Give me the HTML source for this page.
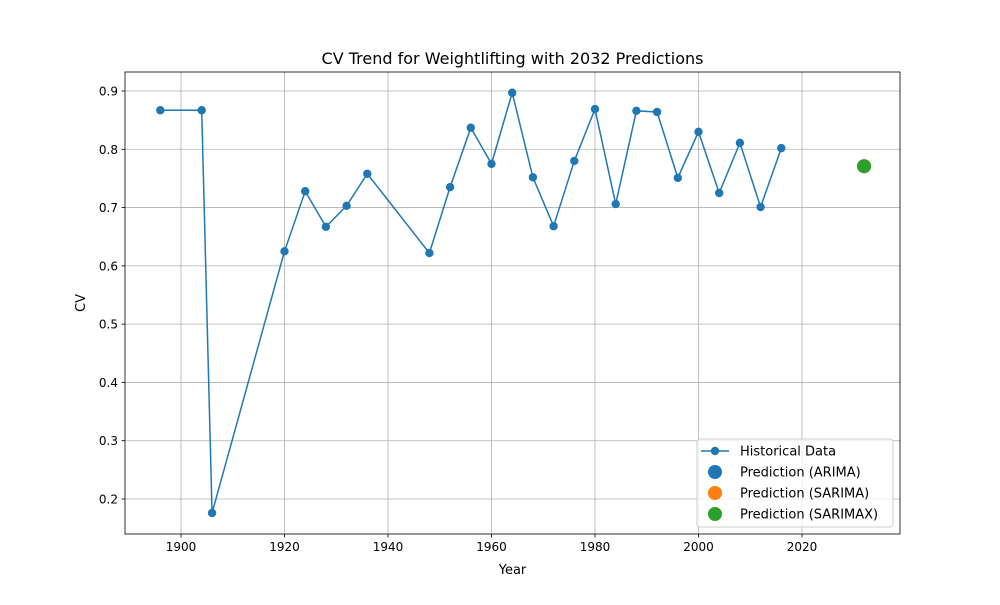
<!DOCTYPE html>
<html><head><meta charset="utf-8"><style>
body{margin:0;background:#fff;font-family:"Liberation Sans","DejaVu Sans",sans-serif}
</style></head><body>
<svg id="chart" width="1000" height="600" xmlns="http://www.w3.org/2000/svg" font-family="DejaVu Sans, Liberation Sans, sans-serif">
<rect width="1000" height="600" fill="#fff"/>
</svg>
<script>
const years=[1896,1904,1906,1920,1924,1928,1932,1936,1948,1952,1956,1960,1964,1968,1972,1976,1980,1984,1988,1992,1996,2000,2004,2008,2012,2016];
const cvValues=[0.867,0.867,0.176,0.625,0.728,0.667,0.703,0.758,0.622,0.735,0.837,0.775,0.897,0.752,0.668,0.780,0.869,0.706,0.866,0.864,0.751,0.830,0.725,0.811,0.701,0.802];
const predYear=2032;
const predArima=0.771, predSarima=0.771, predSarimax=0.771;
const xTicks=[1900,1920,1940,1960,1980,2000,2020];
const yTicks=[0.2,0.3,0.4,0.5,0.6,0.7,0.8,0.9];

const L=125,R=900,T=72,B=534;
const x=v=>181+(v-1900)*(621/120);
const y=v=>91+(0.9-v)*(408/0.7);
const svg=document.getElementById('chart');
const NS='http://www.w3.org/2000/svg';
function mk(tag,attrs,parent){const e=document.createElementNS(NS,tag);for(const k in attrs)e.setAttribute(k,attrs[k]);(parent||svg).appendChild(e);return e;}

// grid
xTicks.forEach(t=>{const g=mk('line',{x1:x(t),x2:x(t),y1:T,y2:B,stroke:'#b0b0b0','stroke-width':0.8});

});
yTicks.forEach(t=>{const g=mk('line',{x1:L,x2:R,y1:y(t),y2:y(t),stroke:'#b0b0b0','stroke-width':0.8});

});
// ticks & labels
xTicks.forEach(t=>{mk('line',{x1:x(t),x2:x(t),y1:B,y2:B+3.5,stroke:'#000','stroke-width':0.8});
const tx=mk('text',{x:x(t),y:B+17,'text-anchor':'middle','font-size':12});tx.textContent=t;

});
yTicks.forEach(t=>{mk('line',{x1:L-3.5,x2:L,y1:y(t),y2:y(t),stroke:'#000','stroke-width':0.8});
const tx=mk('text',{x:L-7,y:y(t)+4.5,'text-anchor':'end','font-size':12});tx.textContent=t.toFixed(1);

});
// line
const pl=mk('polyline',{points:years.map((yr,i)=>x(yr)+','+y(cvValues[i])).join(' '),fill:'none',stroke:'#1f77b4','stroke-width':1.5});


years.forEach((yr,i)=>{const c=mk('circle',{cx:x(yr),cy:y(cvValues[i]),r:4.2,fill:'#1f77b4'});

});
[[predArima,'#1f77b4','prediction-arima'],[predSarima,'#ff7f0e','prediction-sarima'],[predSarimax,'#2ca02c','prediction-sarimax']].forEach(p=>{
const c=mk('circle',{cx:x(predYear),cy:y(p[0]),r:7,fill:p[1]});

});
// frame
mk('rect',{x:L,y:T,width:R-L,height:B-T,fill:'none',stroke:'#000','stroke-width':0.8});
// titles
let t=mk('text',{x:512.5,y:64,'text-anchor':'middle','font-size':16});t.textContent='CV Trend for Weightlifting with 2032 Predictions';


t=mk('text',{x:512.5,y:574,'text-anchor':'middle','font-size':13});t.textContent='Year';


t=mk('text',{x:85,y:303,'text-anchor':'middle','font-size':13,transform:'rotate(-90 85 303)'});t.textContent='CV';


// legend
const lg=mk('g',{});


mk('rect',{x:697,y:439,width:196,height:88,rx:3,fill:'#fff','fill-opacity':0.8,stroke:'#ccc'},lg);
const entries=[['Historical Data','#1f77b4',true],['Prediction (ARIMA)','#1f77b4',false],['Prediction (SARIMA)','#ff7f0e',false],['Prediction (SARIMAX)','#2ca02c',false]];
entries.forEach((e,i)=>{const cy=451+i*21;const g=mk('g',{},lg);


if(e[2]){mk('line',{x1:701,x2:729,y1:cy,y2:cy,stroke:e[1],'stroke-width':1.5},g);mk('circle',{cx:715,cy:cy,r:4.2,fill:e[1]},g);}
else mk('circle',{cx:715,cy:cy,r:7,fill:e[1]},g);
const tx=mk('text',{x:740,y:cy+4.5,'font-size':13},g);tx.textContent=e[0];});
</script>
</body></html>
